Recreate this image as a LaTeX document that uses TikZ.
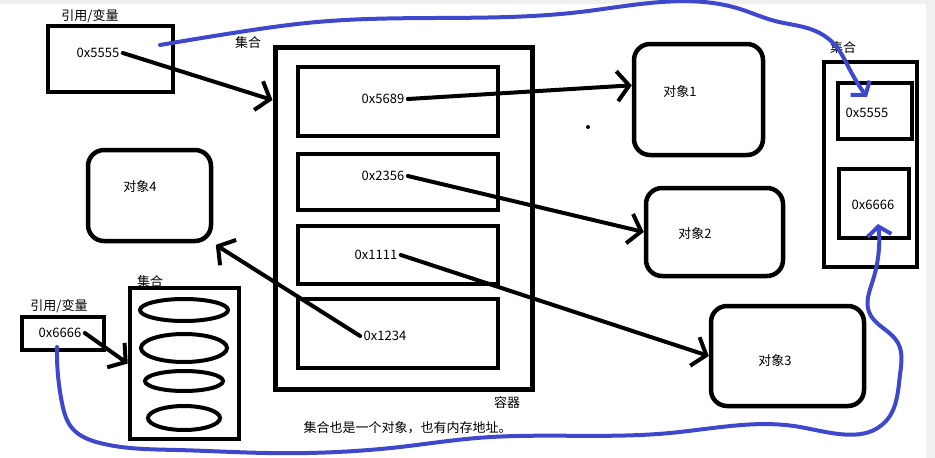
\documentclass[tikz,border=0pt]{standalone}
\usepackage{fontspec}
\setmainfont{Noto Sans CJK SC}
\usetikzlibrary{arrows.meta,hobby}
\definecolor{pen}{RGB}{62,72,205}

\begin{document}
\begin{tikzpicture}[x=1pt,y=-1pt,font=\fontsize{13}{15}\selectfont,
  box/.style={draw,line width=4.5pt,inner sep=0pt},
  obj/.style={box,rounded corners=16pt},
  arr/.style={line width=4pt,line cap=round,-{Straight Barb[length=12pt,width=30pt]}},
  ink/.style={pen,line width=4pt,line cap=round,line join=round,use Hobby shortcut,-{Straight Barb[length=9pt,width=24pt]}}]
\useasboundingbox (0,0) rectangle (935,458);
\fill[gray!12] (0,0) rectangle (935,4);
\fill[gray!12] (926,0) rectangle (935,458);

% reference on the left and the container
\node[box,minimum width=125,minimum height=66] (ref1) at (110.5,59) {};
\node (lab1) at (90,16) {引用/变量};
\node (r5555) at (98,53) {0x5555};
\node[box,line width=5pt,minimum width=257,minimum height=342] (cont) at (403.5,218) {};
\node (lab2) at (248,43) {集合};
\node (lab3) at (507,403) {容器};
\foreach \i/\y/\h in {1/101.5/69, 2/182/56, 3/255/58, 4/333.5/69}
  \node[box,minimum width=200,minimum height=\h] (slot\i) at (398,\y) {};
\foreach \t/\x/\y in {5689/383/99, 2356/383/176, 1111/376/255, 1234/385/336}
  \node (h\t) at (\x,\y) {0x\t};

% objects
\foreach \i/\x/\y/\w/\h in {1/698.5/99.5/129/111, 2/714.5/232/137/88, 3/787.5/356/153/100, 4/149.5/195.5/123/91}
  \node[obj,minimum width=\w,minimum height=\h] (obj\i) at (\x,\y) {};
\foreach \i/\x/\y in {1/680/92, 2/695/234, 3/775/361, 4/140/187}
  \node (t\i) at (\x,\y) {对象\i};
\fill (588,127) circle (2pt);

% collection on the right
\node[box,minimum width=93,minimum height=205] (coll1) at (870.5,164.5) {};
\node (lab4) at (843,48) {集合};
\node[box,minimum width=74,minimum height=56] (s5555) at (875,111) {};
\node[box,minimum width=70,minimum height=69] (s6666) at (874,203.5) {};
\node (c5555) at (867,113) {0x5555};
\node (c6666) at (873,205) {0x6666};

% collection at the bottom left
\node[box,minimum width=82,minimum height=33] (ref2) at (63,333.5) {};
\node (lab5) at (59,306) {引用/变量};
\node (r6666) at (60,333) {0x6666};
\node[box,minimum width=109,minimum height=151] (coll2) at (184.5,363.5) {};
\node (lab6) at (150,282) {集合};
\foreach \y/\rx/\ry in {310/44/11, 348/43/14, 381/39/10, 418/36/12}
  \draw[line width=4pt] (184,\y) ellipse [x radius=\rx pt, y radius=\ry pt];
\node[anchor=west] (note) at (300,428) {集合也是一个对象，也有内存地址。};

\draw[arr] (r5555.east) -- (cont.138);
\draw[arr] (h5689.east) -- (obj1.168);
\draw[arr] (h2356.east) -- (obj2.west);
\draw[arr] (h1111.east) -- (obj3.west);
\draw[arr,shorten >=3pt] (h1234.west) -- (obj4.south east);
\draw[arr] (r6666.east) -- (coll2.west);

% pen strokes
\coordinate (b1) at (160,45);
\coordinate (b2) at (867,97);
\coordinate (b3) at (57,347);
\coordinate (b4) at (878,224);
\draw[ink] (b1) .. (233,33) .. (317,22) .. (580,12) .. (740,9) .. (775,21) .. (813,30) .. (835,45) .. (850,70) .. (b2);
\draw[ink] (b3) .. (62,403) .. (72,428) .. (100,443) .. (177,450) .. (267,453) .. (400,447) .. (477,438) .. (670,433) .. (800,427) .. (886,421) .. (900,375) .. (898,343) .. (869,312) .. (873,280) .. (b4);
\end{tikzpicture}
\end{document}
